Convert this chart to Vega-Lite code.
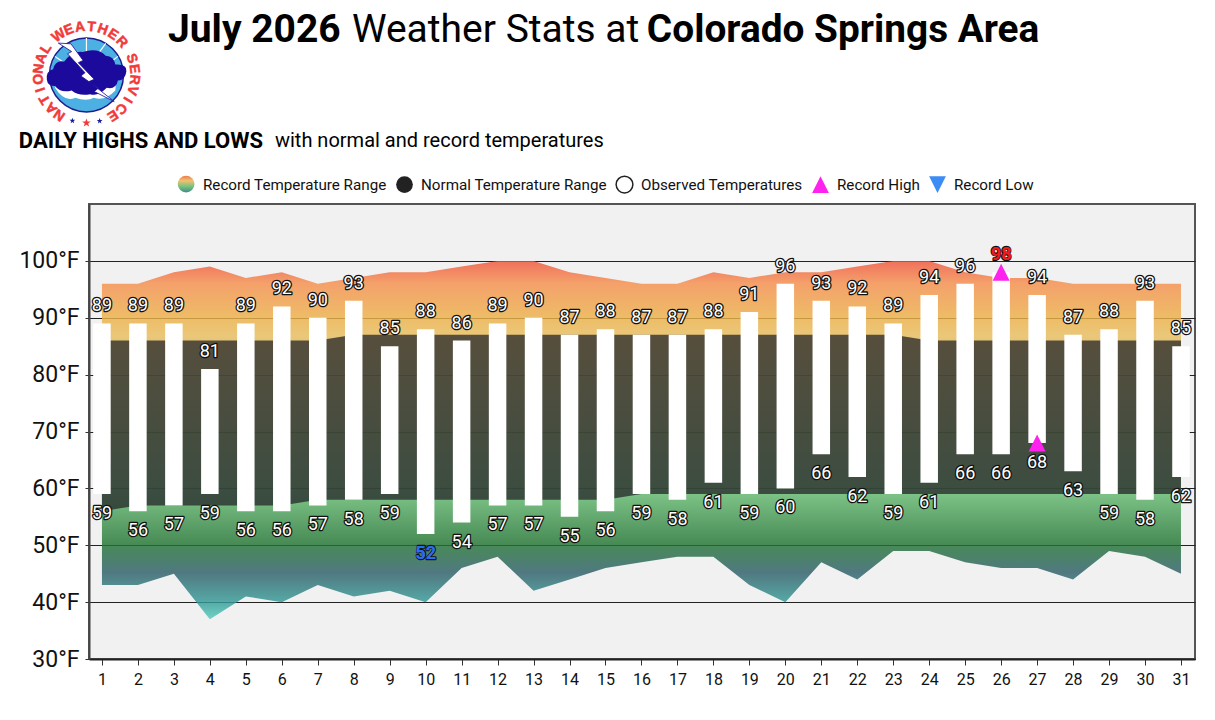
{
  "$schema": "https://vega.github.io/schema/vega-lite/v6.json",
  "width": 1106,
  "height": 455,
  "autosize": "none",
  "padding": {"left": 89, "top": 204, "right": 20, "bottom": 61},
  "background": "white",
  "config": {
    "font": "Roboto",
    "view": {"fill": "#f1f1f1", "stroke": "#555", "strokeWidth": 2},
    "text": {"font": "Roboto"}
  },
  "data": {
    "values": [
      {"day": 1, "rec_low": 43, "rec_high": 96, "norm_low": 56, "norm_high": 86, "obs_low": 59, "obs_high": 89},
      {"day": 2, "rec_low": 43, "rec_high": 96, "norm_low": 57, "norm_high": 86, "obs_low": 56, "obs_high": 89},
      {"day": 3, "rec_low": 45, "rec_high": 98, "norm_low": 57, "norm_high": 86, "obs_low": 57, "obs_high": 89},
      {"day": 4, "rec_low": 37, "rec_high": 99, "norm_low": 57, "norm_high": 86, "obs_low": 59, "obs_high": 81},
      {"day": 5, "rec_low": 41, "rec_high": 97, "norm_low": 57, "norm_high": 86, "obs_low": 56, "obs_high": 89},
      {"day": 6, "rec_low": 40, "rec_high": 98, "norm_low": 57, "norm_high": 86, "obs_low": 56, "obs_high": 92},
      {"day": 7, "rec_low": 43, "rec_high": 96, "norm_low": 58, "norm_high": 86, "obs_low": 57, "obs_high": 90},
      {"day": 8, "rec_low": 41, "rec_high": 97, "norm_low": 58, "norm_high": 87, "obs_low": 58, "obs_high": 93},
      {"day": 9, "rec_low": 42, "rec_high": 98, "norm_low": 58, "norm_high": 87, "obs_low": 59, "obs_high": 85},
      {"day": 10, "rec_low": 40, "rec_high": 98, "norm_low": 58, "norm_high": 87, "obs_low": 52, "obs_high": 88, "low_record": true},
      {"day": 11, "rec_low": 46, "rec_high": 99, "norm_low": 58, "norm_high": 87, "obs_low": 54, "obs_high": 86},
      {"day": 12, "rec_low": 48, "rec_high": 100, "norm_low": 58, "norm_high": 87, "obs_low": 57, "obs_high": 89},
      {"day": 13, "rec_low": 42, "rec_high": 100, "norm_low": 58, "norm_high": 87, "obs_low": 57, "obs_high": 90},
      {"day": 14, "rec_low": 44, "rec_high": 98, "norm_low": 58, "norm_high": 87, "obs_low": 55, "obs_high": 87},
      {"day": 15, "rec_low": 46, "rec_high": 97, "norm_low": 58, "norm_high": 87, "obs_low": 56, "obs_high": 88},
      {"day": 16, "rec_low": 47, "rec_high": 96, "norm_low": 59, "norm_high": 87, "obs_low": 59, "obs_high": 87},
      {"day": 17, "rec_low": 48, "rec_high": 96, "norm_low": 59, "norm_high": 87, "obs_low": 58, "obs_high": 87},
      {"day": 18, "rec_low": 48, "rec_high": 98, "norm_low": 59, "norm_high": 87, "obs_low": 61, "obs_high": 88},
      {"day": 19, "rec_low": 43, "rec_high": 97, "norm_low": 59, "norm_high": 87, "obs_low": 59, "obs_high": 91},
      {"day": 20, "rec_low": 40, "rec_high": 98, "norm_low": 59, "norm_high": 87, "obs_low": 60, "obs_high": 96},
      {"day": 21, "rec_low": 47, "rec_high": 98, "norm_low": 59, "norm_high": 87, "obs_low": 66, "obs_high": 93},
      {"day": 22, "rec_low": 44, "rec_high": 99, "norm_low": 59, "norm_high": 87, "obs_low": 62, "obs_high": 92},
      {"day": 23, "rec_low": 49, "rec_high": 100, "norm_low": 59, "norm_high": 87, "obs_low": 59, "obs_high": 89},
      {"day": 24, "rec_low": 49, "rec_high": 100, "norm_low": 59, "norm_high": 86, "obs_low": 61, "obs_high": 94},
      {"day": 25, "rec_low": 47, "rec_high": 98, "norm_low": 59, "norm_high": 86, "obs_low": 66, "obs_high": 96},
      {"day": 26, "rec_low": 46, "rec_high": 97, "norm_low": 59, "norm_high": 86, "obs_low": 66, "obs_high": 98, "high_record": true},
      {"day": 27, "rec_low": 46, "rec_high": 97, "norm_low": 59, "norm_high": 86, "obs_low": 68, "obs_high": 94},
      {"day": 28, "rec_low": 44, "rec_high": 96, "norm_low": 59, "norm_high": 86, "obs_low": 63, "obs_high": 87},
      {"day": 29, "rec_low": 49, "rec_high": 96, "norm_low": 59, "norm_high": 86, "obs_low": 59, "obs_high": 88},
      {"day": 30, "rec_low": 48, "rec_high": 96, "norm_low": 59, "norm_high": 86, "obs_low": 58, "obs_high": 93},
      {"day": 31, "rec_low": 45, "rec_high": 96, "norm_low": 59, "norm_high": 86, "obs_low": 62, "obs_high": 85}
    ]
  },
  "encoding": {
    "x": {
      "field": "day",
      "type": "quantitative",
      "title": null,
      "scale": {"domain": [0.64, 31.39], "nice": false, "zero": false, "padding": 0},
      "axis": {
        "values": [1,2,3,4,5,6,7,8,9,10,11,12,13,14,15,16,17,18,19,20,21,22,23,24,25,26,27,28,29,30,31],
        "format": "d",
        "grid": false,
        "labelOverlap": false,
        "labelFontSize": 16,
        "labelColor": "#111",
        "labelPadding": 6,
        "tickSize": 6,
        "tickColor": "#333",
        "domainColor": "#222",
        "domainWidth": 2
      }
    }
  },
  "layer": [
    {
      "mark": {
        "type": "area",
        "opacity": 0.82,
        "color": {
          "gradient": "linear", "x1": 0, "y1": 0, "x2": 0, "y2": 1,
          "stops": [
            {"offset": 0, "color": "#f0543c"},
            {"offset": 0.063, "color": "#f58f4d"},
            {"offset": 0.16, "color": "#edb148"},
            {"offset": 0.206, "color": "#e9bd5e"},
            {"offset": 0.65, "color": "#63b86e"},
            {"offset": 0.79, "color": "#227433"},
            {"offset": 0.87, "color": "#2d5e68"},
            {"offset": 0.95, "color": "#339895"},
            {"offset": 1, "color": "#53cdbd"}
          ]
        }
      },
      "encoding": {
        "y": {
          "field": "rec_low",
          "type": "quantitative",
          "title": null,
          "scale": {"domain": [30, 110], "nice": false, "zero": false},
          "axis": {
            "values": [30,40,50,60,70,80,90,100],
            "labelExpr": "datum.value + '°F'",
            "labelFontSize": 23,
            "labelColor": "#111",
            "labelPadding": 6,
            "tickSize": 4,
            "tickColor": "#333",
            "domainColor": "#444",
            "domainWidth": 2,
            "grid": true,
            "gridColor": "#222",
            "gridWidth": 1.2
          }
        },
        "y2": {"field": "rec_high"}
      }
    },
    {
      "mark": {"type": "area", "color": "#25252a", "opacity": 0.75},
      "encoding": {
        "y": {"field": "norm_low", "type": "quantitative", "title": null},
        "y2": {"field": "norm_high"}
      }
    },
    {
      "mark": {"type": "bar", "color": "white", "size": 17.5, "orient": "vertical"},
      "encoding": {
        "y": {"field": "obs_low", "type": "quantitative", "title": null},
        "y2": {"field": "obs_high"}
      }
    },
    {
      "data": {
        "values": [
          {"day": 26, "temp": 98, "series": "Record High"},
          {"day": 27, "temp": 68, "series": "Record High"}
        ]
      },
      "mark": {"type": "point", "filled": true, "size": 289, "opacity": 1},
      "encoding": {
        "y": {"field": "temp", "type": "quantitative", "title": null},
        "color": {
          "field": "series",
          "type": "nominal",
          "title": null,
          "scale": {
            "domain": ["Record Temperature Range", "Normal Temperature Range", "Observed Temperatures", "Record High", "Record Low"],
            "range": ["transparent", "#222222", "#ffffff", "#ff22ee", "#3d8bf5"]
          },
          "legend": {
            "orient": "none",
            "legendX": 88,
            "legendY": -29,
            "direction": "horizontal",
            "labelFontSize": 15.2,
            "labelColor": "#111",
            "labelLimit": 300,
            "symbolSize": 280,
            "columnPadding": 6,
            "labelOffset": 7,
            "symbolOpacity": 1,
            "encoding": {
              "symbols": {
                "stroke": {
                  "condition": {"test": "datum.value === 'Observed Temperatures'", "value": "#222"},
                  "value": "transparent"
                },
                "strokeWidth": {"value": 1.5}
              }
            }
          }
        },
        "shape": {
          "field": "series",
          "type": "nominal",
          "title": null,
          "scale": {
            "domain": ["Record Temperature Range", "Normal Temperature Range", "Observed Temperatures", "Record High", "Record Low"],
            "range": ["circle", "circle", "circle", "M0 -1 L1 1 L-1 1Z", "M-1 -1 L1 -1 L0 1Z"]
          }
        }
      }
    },
    {
      "data": {"values": [{"item": "Record Temperature Range"}]},
      "transform": [{"calculate": "3.34", "as": "at_day"}],
      "mark": {
        "type": "point",
        "shape": "circle",
        "filled": true,
        "size": 280,
        "opacity": 1,
        "fill": {
          "gradient": "linear", "x1": 0, "y1": 0, "x2": 0, "y2": 1,
          "stops": [
            {"offset": 0, "color": "#f0784f"},
            {"offset": 0.3, "color": "#eec36f"},
            {"offset": 0.65, "color": "#78c080"},
            {"offset": 1, "color": "#3f8c88"}
          ]
        }
      },
      "encoding": {
        "x": {"field": "at_day", "type": "quantitative"},
        "y": {"datum": 113.5, "type": "quantitative", "title": null}
      }
    },
    {
      "mark": {"type": "text", "baseline": "bottom", "dy": -8, "fontSize": 18, "stroke": "#111", "strokeWidth": 2.6, "strokeJoin": "round"},
      "encoding": {
        "y": {"field": "obs_high", "type": "quantitative", "title": null},
        "text": {"field": "obs_high", "type": "quantitative"}
      }
    },
    {
      "mark": {"type": "text", "baseline": "bottom", "dy": -8, "fontSize": 18},
      "encoding": {
        "y": {"field": "obs_high", "type": "quantitative", "title": null},
        "text": {"field": "obs_high", "type": "quantitative"},
        "color": {"condition": {"test": "datum.high_record === true", "value": "#f01c1c"}, "value": "white"}
      }
    },
    {
      "mark": {"type": "text", "baseline": "top", "dy": 11, "fontSize": 18, "stroke": "#111", "strokeWidth": 2.6, "strokeJoin": "round"},
      "encoding": {
        "y": {"field": "obs_low", "type": "quantitative", "title": null},
        "text": {"field": "obs_low", "type": "quantitative"}
      }
    },
    {
      "mark": {"type": "text", "baseline": "top", "dy": 11, "fontSize": 18},
      "encoding": {
        "y": {"field": "obs_low", "type": "quantitative", "title": null},
        "text": {"field": "obs_low", "type": "quantitative"},
        "color": {"condition": {"test": "datum.low_record === true", "value": "#2a6cf0"}, "value": "white"}
      }
    },
    {
      "transform": [{"filter": "datum.high_record === true"}],
      "mark": {"type": "text", "baseline": "bottom", "dy": -8, "fontSize": 18, "fontWeight": "bold", "color": "#f01c1c"},
      "encoding": {
        "y": {"field": "obs_high", "type": "quantitative", "title": null},
        "text": {"field": "obs_high", "type": "quantitative"}
      }
    },
    {
      "transform": [{"filter": "datum.low_record === true"}],
      "mark": {"type": "text", "baseline": "top", "dy": 11, "fontSize": 18, "fontWeight": "bold", "color": "#2a6cf0"},
      "encoding": {
        "y": {"field": "obs_low", "type": "quantitative", "title": null},
        "text": {"field": "obs_low", "type": "quantitative"}
      }
    },
    {
      "data": {"values": [{"label": "July 2026"}]},
      "transform": [{"calculate": "2.835", "as": "at_day"}],
      "mark": {"type": "text", "align": "left", "fontSize": 39, "fontWeight": "bold", "color": "black"},
      "encoding": {
        "x": {"field": "at_day", "type": "quantitative"},
        "y": {"datum": 140.6, "type": "quantitative", "title": null},
        "text": {"field": "label"}
      }
    },
    {
      "data": {"values": [{"label": "Weather Stats at"}]},
      "transform": [{"calculate": "7.95", "as": "at_day"}],
      "mark": {"type": "text", "align": "left", "fontSize": 39, "color": "black"},
      "encoding": {
        "x": {"field": "at_day", "type": "quantitative"},
        "y": {"datum": 140.6, "type": "quantitative", "title": null},
        "text": {"field": "label"}
      }
    },
    {
      "data": {"values": [{"label": "Colorado Springs Area"}]},
      "transform": [{"calculate": "16.15", "as": "at_day"}],
      "mark": {"type": "text", "align": "left", "fontSize": 38.8, "fontWeight": "bold", "color": "black"},
      "encoding": {
        "x": {"field": "at_day", "type": "quantitative"},
        "y": {"datum": 140.6, "type": "quantitative", "title": null},
        "text": {"field": "label"}
      }
    },
    {
      "data": {"values": [{"label": "DAILY HIGHS AND LOWS"}]},
      "transform": [{"calculate": "-1.31", "as": "at_day"}],
      "mark": {"type": "text", "align": "left", "fontSize": 22, "fontWeight": "bold", "color": "black"},
      "encoding": {
        "x": {"field": "at_day", "type": "quantitative"},
        "y": {"datum": 121.1, "type": "quantitative", "title": null},
        "text": {"field": "label"}
      }
    },
    {
      "data": {"values": [{"label": "with normal and record temperatures"}]},
      "transform": [{"calculate": "5.81", "as": "at_day"}],
      "mark": {"type": "text", "align": "left", "fontSize": 20, "color": "black"},
      "encoding": {
        "x": {"field": "at_day", "type": "quantitative"},
        "y": {"datum": 121.1, "type": "quantitative", "title": null},
        "text": {"field": "label"}
      }
    },
    {
      "data": {"values": [{"part": "sky"}]},
      "transform": [{"calculate": "0.569", "as": "at_day"}],
      "encoding": {
        "x": {"field": "at_day", "type": "quantitative"},
        "y": {"datum": 132.7, "type": "quantitative", "title": null}
      },
      "layer": [
        {"mark": {"type": "point", "shape": "circle", "filled": true, "size": 5476, "opacity": 1, "fill": "#4db0e2", "stroke": "#1c1c90", "strokeWidth": 1.5}},
        {"mark": {"type": "point", "shape": "M-.85 .2 L-.85 .35 Q-.6 .75 -.3 .62 Q0 .72 .2 .62 Q.5 .72 .78 .42 L.8 .2Z", "filled": true, "size": 5476, "opacity": 1, "fill": "white"}},
        {"mark": {"type": "point", "shape": "M0 -1 L0 -.6 M.52 -.85 L.3 -.55 M.85 -.5 L.6 -.3 M-.85 -.5 L-.6 -.33", "filled": false, "size": 5476, "opacity": 1, "stroke": "white", "strokeWidth": 1.2}},
        {"mark": {"type": "point", "shape": "M-1.07 .13 Q-1.1 -.1 -.9 -.15 Q-.85 -.4 -.6 -.36 Q-.4 -.65 -.1 -.62 Q.3 -.75 .52 -.52 Q.75 -.5 .78 -.28 Q1.1 -.3 1.08 -.1 Q1.05 .15 .85 .15 Q.8 .4 .55 .35 Q.3 .6 .1 .52 Q-.2 .58 -.4 .42 Q-.7 .5 -.85 .3 Q-1.05 .3 -1.07 .13Z", "filled": true, "size": 5476, "opacity": 1, "fill": "#1c0a9c"}},
        {"mark": {"type": "point", "shape": "M-.76 -.86 L-.42 -.84 L-.09 -.39 L-.22 -.33 L.21 .12 L.07 .18 L.75 .72 L.21 .45 L.32 .36 L-.15 .03 L-.04 -.06 L-.51 -.57 L-.4 -.63Z", "filled": true, "size": 5476, "opacity": 1, "fill": "white", "stroke": "#1c0a9c", "strokeWidth": 0.8}}
      ]
    },
    {
      "data": {
        "values": [
          {"glyph": "N", "bearing": 214}, {"glyph": "A", "bearing": 226.7}, {"glyph": "T", "bearing": 239.4}, {"glyph": "I", "bearing": 252.1},
          {"glyph": "O", "bearing": 264.8}, {"glyph": "N", "bearing": 277.5}, {"glyph": "A", "bearing": 290.2}, {"glyph": "L", "bearing": 303},
          {"glyph": "W", "bearing": 325}, {"glyph": "E", "bearing": 338.7}, {"glyph": "A", "bearing": 352.4}, {"glyph": "T", "bearing": 6},
          {"glyph": "H", "bearing": 19.7}, {"glyph": "E", "bearing": 33.4}, {"glyph": "R", "bearing": 47},
          {"glyph": "S", "bearing": 70}, {"glyph": "E", "bearing": 82.8}, {"glyph": "R", "bearing": 95.7}, {"glyph": "V", "bearing": 108.5},
          {"glyph": "I", "bearing": 121.3}, {"glyph": "C", "bearing": 134.2}, {"glyph": "E", "bearing": 147}
        ]
      },
      "transform": [
        {"calculate": "0.569 + 1.334 * sin(datum.bearing * PI / 180)", "as": "ring_x"},
        {"calculate": "132.7 + 8.44 * cos(datum.bearing * PI / 180)", "as": "ring_y"}
      ],
      "mark": {"type": "text", "fontSize": 14, "fontWeight": "bold", "font": "Liberation Sans", "color": "#f23a3a", "stroke": "#f23a3a", "strokeWidth": 0.5, "baseline": "middle"},
      "encoding": {
        "x": {"field": "ring_x", "type": "quantitative"},
        "y": {"field": "ring_y", "type": "quantitative", "title": null},
        "angle": {"field": "bearing", "type": "quantitative", "scale": null},
        "text": {"field": "glyph"}
      }
    },
    {
      "data": {"values": [{"bearing": 197}, {"bearing": 164}]},
      "transform": [
        {"calculate": "0.569 + 1.334 * sin(datum.bearing * PI / 180)", "as": "ring_x"},
        {"calculate": "132.7 + 8.44 * cos(datum.bearing * PI / 180)", "as": "ring_y"}
      ],
      "mark": {"type": "point", "shape": "M0 -1 L.24 -.31 L.95 -.31 L.38 .12 L.59 .81 L0 .4 L-.59 .81 L-.38 .12 L-.95 -.31 L-.24 -.31Z", "filled": true, "size": 36, "opacity": 1, "fill": "#1c1c9c"},
      "encoding": {
        "x": {"field": "ring_x", "type": "quantitative"},
        "y": {"field": "ring_y", "type": "quantitative", "title": null}
      }
    },
    {
      "data": {"values": [{"bearing": 180}]},
      "transform": [
        {"calculate": "0.569 + 1.334 * sin(datum.bearing * PI / 180)", "as": "ring_x"},
        {"calculate": "132.7 + 8.44 * cos(datum.bearing * PI / 180)", "as": "ring_y"}
      ],
      "mark": {"type": "point", "shape": "M0 -1 L.24 -.31 L.95 -.31 L.38 .12 L.59 .81 L0 .4 L-.59 .81 L-.38 .12 L-.95 -.31 L-.24 -.31Z", "filled": true, "size": 81, "opacity": 1, "fill": "#f23a3a"},
      "encoding": {
        "x": {"field": "ring_x", "type": "quantitative"},
        "y": {"field": "ring_y", "type": "quantitative", "title": null}
      }
    }
  ]
}
